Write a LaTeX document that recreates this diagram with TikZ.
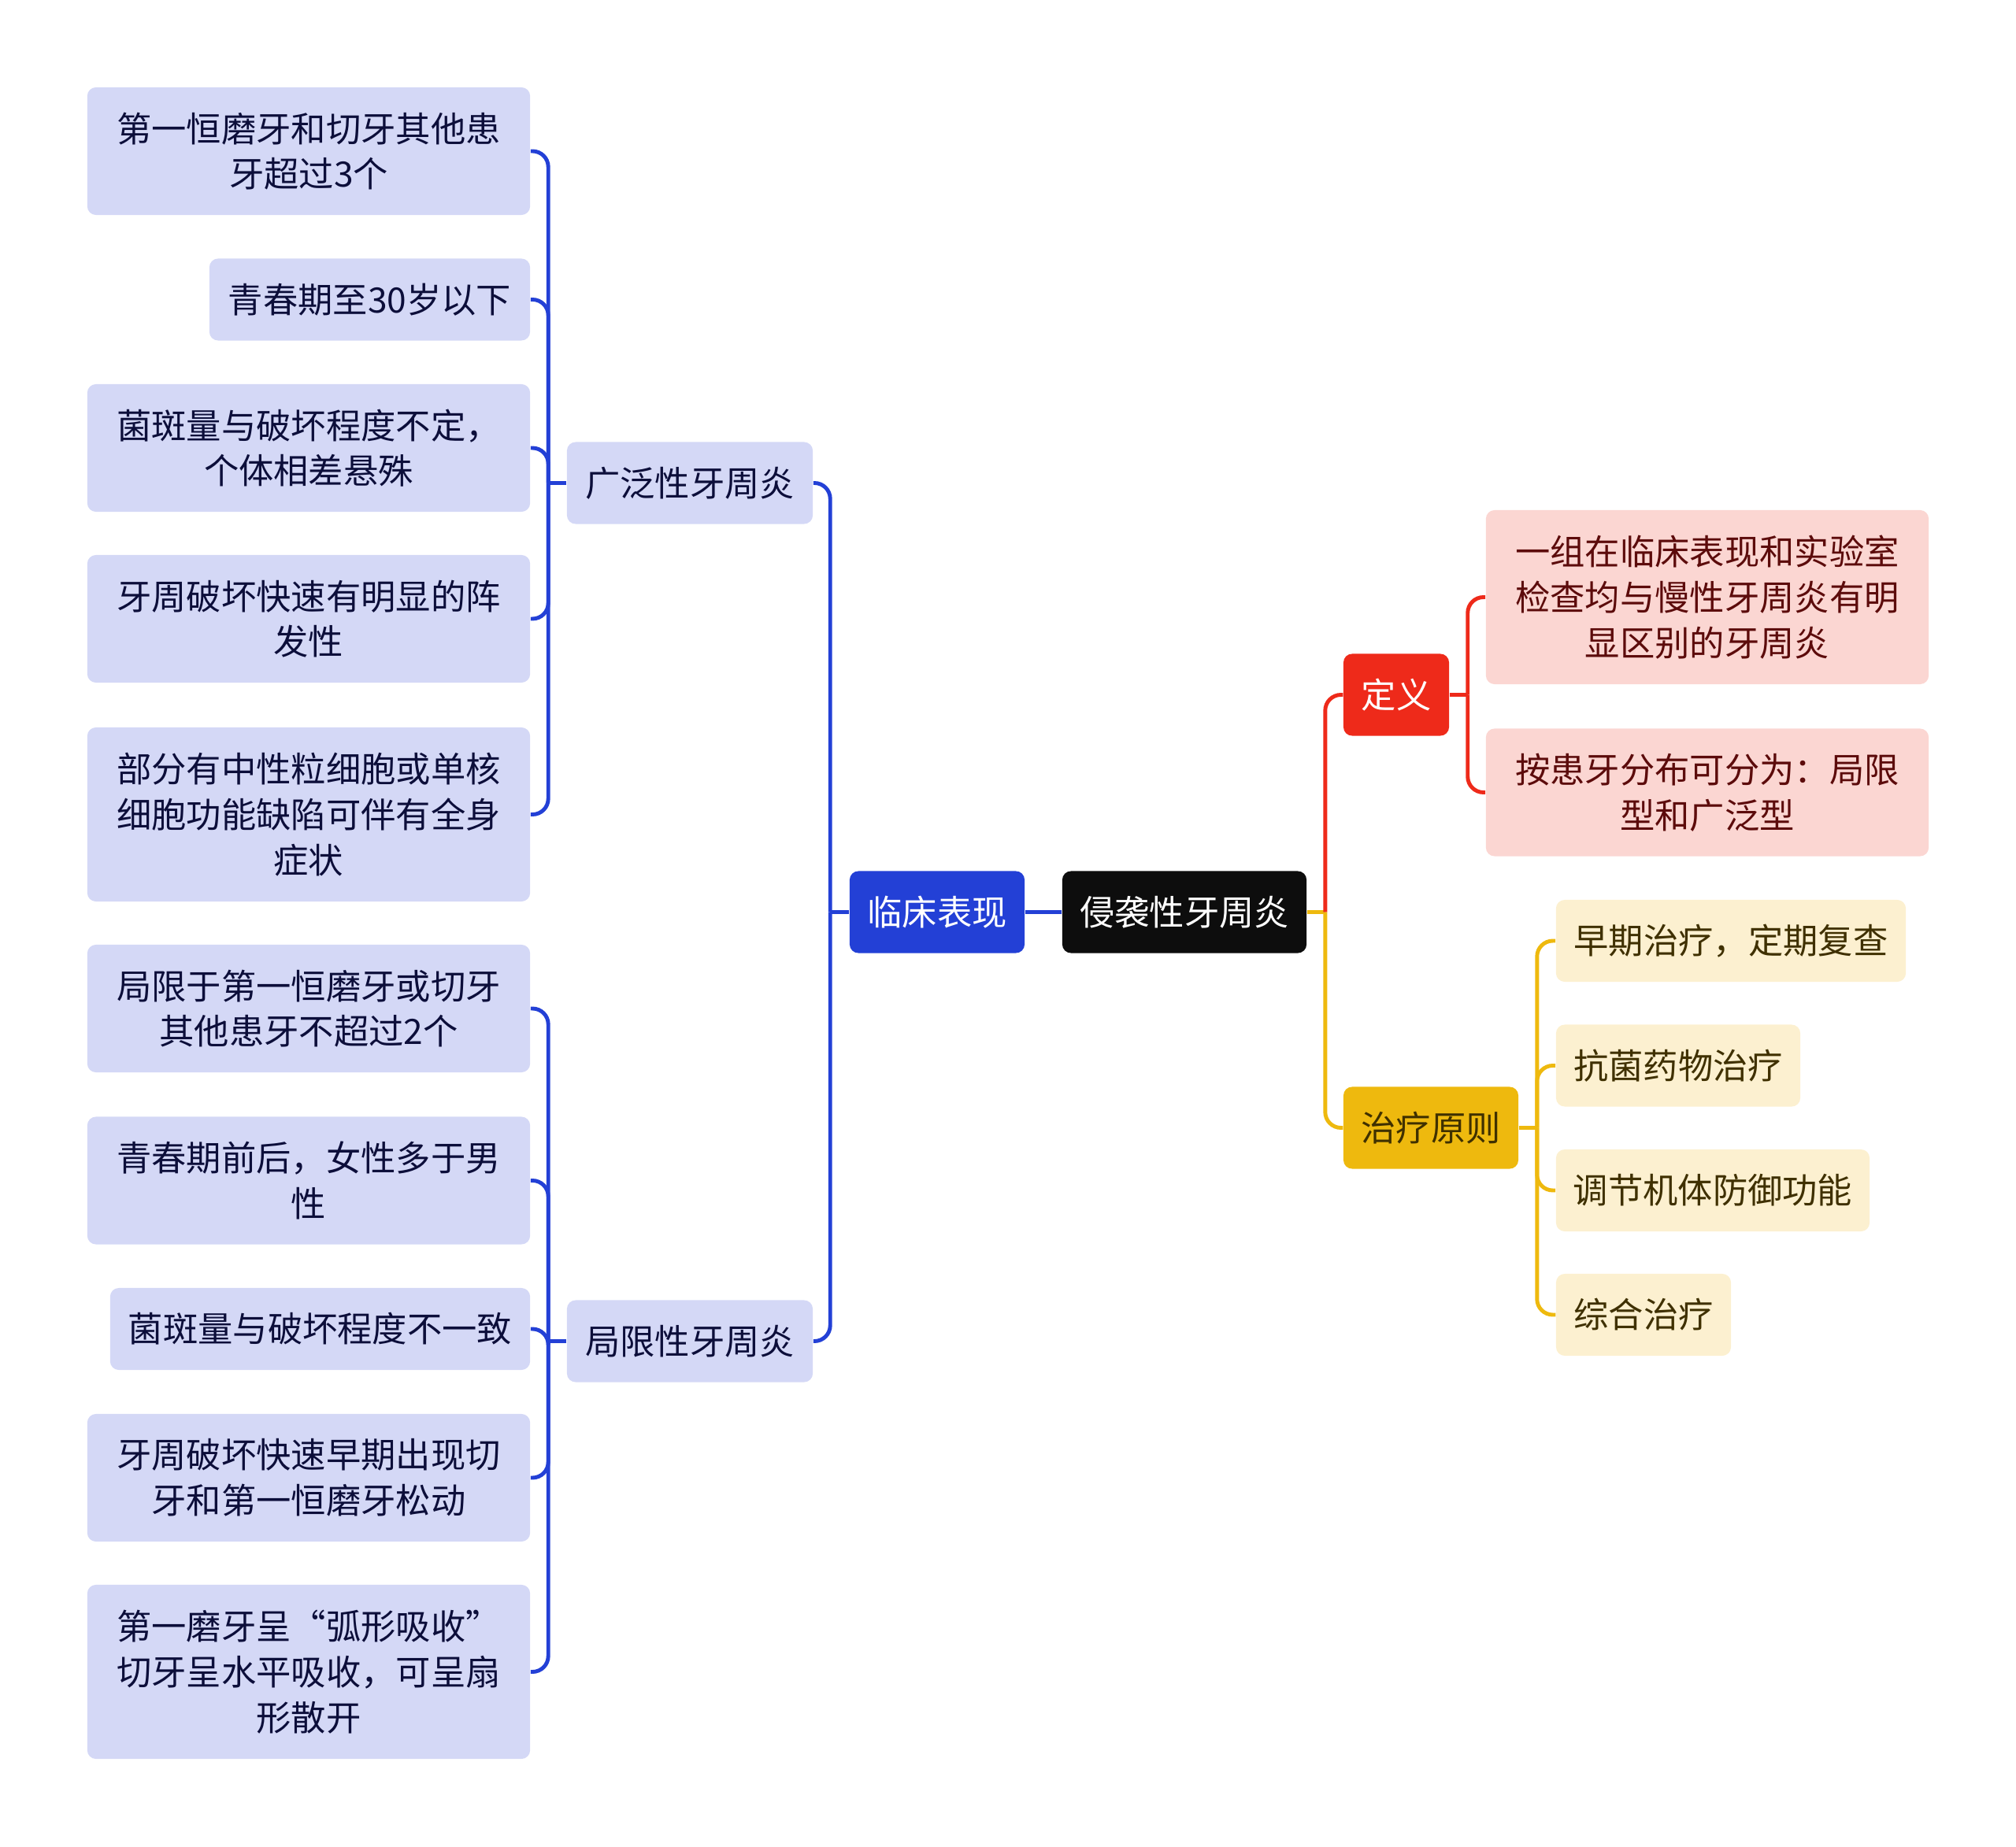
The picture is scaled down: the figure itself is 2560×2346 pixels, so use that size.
\documentclass[tikz,border=0pt]{standalone}
\usepackage{fontspec}
\setmainfont{Noto Sans CJK SC}

\definecolor{mainblue}{HTML}{2340D6}
\definecolor{leafblue}{HTML}{D4D8F6}
\definecolor{inkblue}{HTML}{0C0E3A}
\definecolor{rootblack}{HTML}{0D0D0D}
\definecolor{mainred}{HTML}{EE2A1A}
\definecolor{leafred}{HTML}{FBD6D2}
\definecolor{inkred}{HTML}{5C0B0B}
\definecolor{mainyellow}{HTML}{EEB90E}
\definecolor{leafyellow}{HTML}{FCF0D0}
\definecolor{inkyellow}{HTML}{3F3000}

\tikzset{
  box/.style={rounded corners=1.1mm, inner sep=0pt, align=center,
    font=\fontsize{12.6pt}{16.4pt}\selectfont},
  one/.style={minimum height=1.04cm},
  two/.style={minimum height=1.62cm},
  three/.style={minimum height=2.21cm},
  rootbox/.style={box, one, fill=rootblack, text=white},
  bluehead/.style={box, one, fill=mainblue, text=white},
  redhead/.style={box, one, fill=mainred, text=white},
  yellowhead/.style={box, one, fill=mainyellow, text=inkyellow},
  leafb/.style={box, fill=leafblue, text=inkblue},
  leafr/.style={box, fill=leafred, text=inkred},
  leafy/.style={box, one, fill=leafyellow, text=inkyellow},
  linkb/.style={draw=mainblue, line width=1.4pt, rounded corners=2mm},
  linkr/.style={draw=mainred, line width=1.4pt, rounded corners=2mm},
  linky/.style={draw=mainyellow, line width=1.4pt, rounded corners=2mm},
}

\begin{document}
\begin{tikzpicture}[x=0.01cm, y=-0.01cm]
    \useasboundingbox (0,0) rectangle (2560,2346);

    % 中心与一级主题
    \node[rootbox, minimum width=3.1cm] (root) at (1504,1158.5) {侵袭性牙周炎};
    \node[bluehead, minimum width=2.22cm] (clin) at (1190,1158.5) {临床表现};
    \node[redhead, minimum width=1.34cm] (def) at (1773,882.5) {定义};
    \node[yellowhead, minimum width=2.22cm] (treat) at (1817,1432.5) {治疗原则};

    % 临床表现分支
    \node[leafb, one, minimum width=3.12cm] (gen) at (876,613.5) {广泛性牙周炎};
    \node[leafb, one, minimum width=3.12cm] (loc) at (876,1703.5) {局限性牙周炎};

    \node[leafb, two, minimum width=5.62cm] (g1) at (392,192) {第一恒磨牙和切牙其他患\\牙超过3个};
    \node[leafb, one, minimum width=4.07cm] (g2) at (469.5,380.5) {青春期至30岁以下};
    \node[leafb, two, minimum width=5.62cm] (g3) at (392,569) {菌斑量与破坏程度不定，\\个体相差悬殊};
    \node[leafb, two, minimum width=5.62cm] (g4) at (392,786) {牙周破坏快速有明显的阵\\发性};
    \node[leafb, three, minimum width=5.62cm] (g5) at (392,1034.5) {部分有中性粒细胞或单核\\细胞功能缺陷可伴有全身\\症状};

    \node[leafb, two, minimum width=5.62cm] (l1) at (392,1281) {局限于第一恒磨牙或切牙\\其他患牙不超过2个};
    \node[leafb, two, minimum width=5.62cm] (l2) at (392,1499.5) {青春期前后，女性多于男\\性};
    \node[leafb, one, minimum width=5.33cm] (l3) at (406.5,1688) {菌斑量与破坏程度不一致};
    \node[leafb, two, minimum width=5.62cm] (l4) at (392,1877) {牙周破坏快速早期出现切\\牙和第一恒磨牙松动};
    \node[leafb, three, minimum width=5.62cm] (l5) at (392,2123.5) {第一磨牙呈“弧形吸收”\\切牙呈水平吸收，可呈扇\\形散开};

    % 定义分支
    \node[leafr, three, minimum width=5.62cm] (d1) at (2168,758.5) {一组在临床表现和实验室\\检查均与慢性牙周炎有明\\显区别的牙周炎};
    \node[leafr, two, minimum width=5.62cm] (d2) at (2168,1006.5) {按患牙分布可分为：局限\\型和广泛型};

    % 治疗原则分支
    \node[leafy, minimum width=4.44cm] (t1) at (2198,1195) {早期治疗，定期复查};
    \node[leafy, minimum width=3.10cm] (t2) at (2131,1353.5) {抗菌药物治疗};
    \node[leafy, minimum width=3.98cm] (t3) at (2175,1512) {调节机体防御功能};
    \node[leafy, minimum width=2.22cm] (t4) at (2087,1670) {综合治疗};

    % 连线
    \path (clin.west) ++(-24,0) coordinate (cj);
    \path (gen.west) ++(-23,0) coordinate (gj);
    \path (loc.west) ++(-23,0) coordinate (lj);
    \path (root.east) ++(23,0) coordinate (rj);
    \path (def.east) ++(23,0) coordinate (dj);
    \path (treat.east) ++(23,0) coordinate (tj);

    \draw[linkb] (root.west) -- (clin.east);
    \draw[linkb] (clin.west) -- (cj);
    \draw[linkb] (cj) |- (gen.east);
    \draw[linkb] (cj) |- (loc.east);

    \draw[linkb] (gen.west) -- (gj);
    \foreach \n in {g1,g2,g3,g4,g5} {\draw[linkb] (gj) |- (\n.east);}
    \draw[linkb] (loc.west) -- (lj);
    \foreach \n in {l1,l2,l3,l4,l5} {\draw[linkb] (lj) |- (\n.east);}

    \draw[linky] (root.east) -- (rj);
    \draw[linkr] (rj) |- (def.west);
    \draw[linky] (rj) |- (treat.west);

    \draw[linkr] (def.east) -- (dj);
    \foreach \n in {d1,d2} {\draw[linkr] (dj) |- (\n.west);}
    \draw[linky] (treat.east) -- (tj);
    \foreach \n in {t1,t2,t3,t4} {\draw[linky] (tj) |- (\n.west);}
\end{tikzpicture}
\end{document}
